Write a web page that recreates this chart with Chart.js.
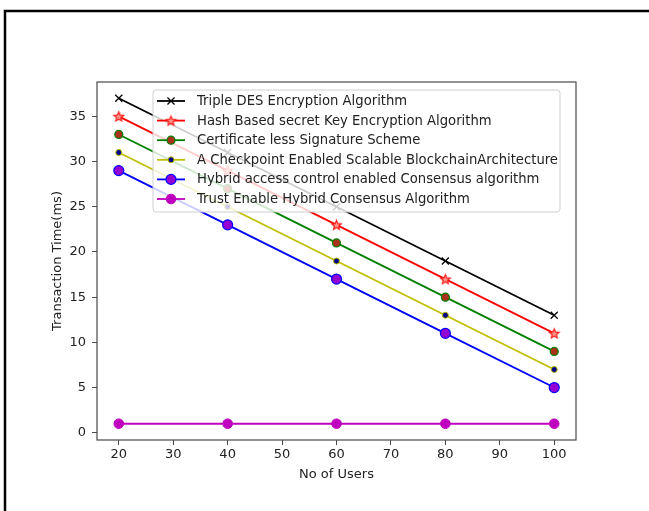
<!DOCTYPE html>
<html>
<head>
<meta charset="utf-8">
<script src="https://cdn.jsdelivr.net/npm/chart.js@4.4.1/dist/chart.umd.min.js"></script>
<style>
  html, body { margin: 0; padding: 0; background: #fff; }
  #chart { display: block; }
</style>
</head>
<body>
<canvas id="chart" width="649" height="511"></canvas>
<script>
// values
var users = [20, 40, 60, 80, 100];
var tripleDes = [37, 31, 25, 19, 13];
var hashBased = [35, 29, 23, 17, 11];
var certLess = [33, 27, 21, 15, 9];
var checkpoint = [31, 25, 19, 13, 7];
var hybridAccess = [29, 23, 17, 11, 5];
var trustHybrid = [1, 1, 1, 1, 1];

var seriesNames = [
    'Triple DES Encryption Algorithm',
    'Hash Based secret Key Encryption Algorithm',
    'Certificate less Signature Scheme',
    'A Checkpoint Enabled Scalable BlockchainArchitecture',
    'Hybrid access control enabled Consensus algorithm',
    'Trust Enable Hybrid Consensus Algorithm'
];
var xTicks = [20, 30, 40, 50, 60, 70, 80, 90, 100];
var yTicks = [0, 5, 10, 15, 20, 25, 30, 35];

function toPoints(vals) {
    return vals.map(function (v, i) { return {x: users[i], y: v}; });
}

function makeStar(r, fill, stroke) {
    var c = document.createElement('canvas');
    var s = Math.ceil(r * 2 + 3);
    c.width = s; c.height = s;
    var g = c.getContext('2d');
    g.beginPath();
    for (var i = 0; i < 10; i++) {
        var rr = (i % 2) ? r * 0.45 : r;
        var a = -Math.PI / 2 + i * Math.PI / 5;
        g.lineTo(s / 2 + rr * Math.cos(a), s / 2 + 0.5 + rr * Math.sin(a));
    }
    g.closePath();
    g.fillStyle = fill; g.fill();
    g.strokeStyle = stroke; g.lineWidth = 1.2; g.stroke();
    return c;
}
var starImg = makeStar(5, '#ff9a8a', '#ff1a1a');

function series(label, vals, color, extra) {
    var d = {
        label: label,
        data: toPoints(vals),
        borderColor: color,
        borderWidth: 1.8,
        tension: 0,
        fill: false
    };
    for (var k in extra) d[k] = extra[k];
    return d;
}

var datasets = [
    series(seriesNames[0], tripleDes, '#000000', {pointStyle: 'crossRot', pointRadius: 5, pointBorderColor: '#000', pointBorderWidth: 1.3}),
    series(seriesNames[1], hashBased, '#ff0000', {pointStyle: starImg, pointRadius: 5}),
    series(seriesNames[2], certLess, '#008000', {pointStyle: 'circle', pointRadius: 4, pointBackgroundColor: '#a8321c', pointBorderColor: '#008000', pointBorderWidth: 1.2}),
    series(seriesNames[3], checkpoint, '#bfbf00', {pointStyle: 'circle', pointRadius: 3, pointBackgroundColor: '#00008b', pointBorderColor: '#bfbf00', pointBorderWidth: 1}),
    series(seriesNames[4], hybridAccess, '#0000ff', {pointStyle: 'circle', pointRadius: 5, pointBackgroundColor: '#9400d3', pointBorderColor: '#0000ff', pointBorderWidth: 1.2}),
    series(seriesNames[5], trustHybrid, '#bf00bf', {pointStyle: 'circle', pointRadius: 4.8, pointBackgroundColor: '#bf00bf', pointBorderColor: '#bf00bf', pointBorderWidth: 1})
];

// white page, outer border of the figure
var pageFrame = {
    id: 'pageFrame',
    beforeDraw: function (chart) {
        var ctx = chart.ctx;
        ctx.save();
        ctx.fillStyle = '#fff';
        ctx.fillRect(0, 0, chart.width, chart.height);
        ctx.strokeStyle = '#000';
        ctx.lineWidth = 2.5;
        ctx.beginPath();
        ctx.moveTo(5, chart.height);
        ctx.lineTo(5, 11);
        ctx.lineTo(chart.width, 11);
        ctx.stroke();
        ctx.restore();
    }
};

// plot frame + matplotlib-like legend inside the axes
var boxLegend = {
    id: 'boxLegend',
    afterDatasetsDraw: function (chart) {
        var ctx = chart.ctx;
        var a = chart.chartArea;
        ctx.save();
        ctx.strokeStyle = '#4a4a4a';
        ctx.lineWidth = 1.2;
        ctx.strokeRect(a.left, a.top, a.right - a.left, a.bottom - a.top);

        var x0 = 153, y0 = 90, w = 407, h = 122, r = 3;
        ctx.beginPath();
        ctx.moveTo(x0 + r, y0);
        ctx.arcTo(x0 + w, y0, x0 + w, y0 + h, r);
        ctx.arcTo(x0 + w, y0 + h, x0, y0 + h, r);
        ctx.arcTo(x0, y0 + h, x0, y0, r);
        ctx.arcTo(x0, y0, x0 + w, y0, r);
        ctx.closePath();
        ctx.fillStyle = 'rgba(255,255,255,0.8)';
        ctx.fill();
        ctx.strokeStyle = '#d0d0d0';
        ctx.lineWidth = 1;
        ctx.stroke();

        ctx.font = '13.2px "DejaVu Sans"';
        ctx.textBaseline = 'middle';
        chart.data.datasets.forEach(function (ds, i) {
            var y = 101 + i * 19.6;
            ctx.strokeStyle = ds.borderColor;
            ctx.lineWidth = ds.borderWidth;
            ctx.beginPath();
            ctx.moveTo(157, y);
            ctx.lineTo(185, y);
            ctx.stroke();
            var o = chart.getDatasetMeta(i).data[0].options;
            ctx.fillStyle = o.backgroundColor;
            ctx.strokeStyle = o.borderColor;
            ctx.lineWidth = o.borderWidth;
            Chart.helpers.drawPoint(ctx, {
                pointStyle: o.pointStyle,
                radius: o.radius,
                rotation: 0,
                borderWidth: o.borderWidth
            }, 171, y);
            ctx.fillStyle = '#222';
            ctx.fillText(ds.label, 197, y + 0.5);
        });
        ctx.restore();
    }
};

var tickFont = {family: '"DejaVu Sans"', size: 13};

new Chart(document.getElementById('chart'), {
    type: 'line',
    data: {datasets: datasets},
    plugins: [pageFrame, boxLegend],
    options: {
        responsive: false,
        animation: false,
        layout: {padding: {left: 47, right: 73, top: 82, bottom: 27}},
        plugins: {legend: {display: false}, tooltip: {enabled: false}},
        events: [],
        scales: {
            x: {
                type: 'linear',
                min: 16,
                max: 104,
                afterBuildTicks: function (s) { s.ticks = xTicks.map(function (v) { return {value: v}; }); },
                afterFit: function (s) { s.height = 44; },
                grid: {display: true, drawOnChartArea: false, drawTicks: true, tickLength: 5, color: '#4a4a4a', tickWidth: 1},
                border: {display: false},
                ticks: {font: tickFont, color: '#222', padding: 2, maxRotation: 0, autoSkip: false},
                title: {display: true, text: 'No of Users', font: tickFont, color: '#222', padding: {top: 0, bottom: 2}}
            },
            y: {
                min: -0.8,
                max: 38.8,
                afterBuildTicks: function (s) { s.ticks = yTicks.map(function (v) { return {value: v}; }); },
                afterFit: function (s) { s.width = 50; },
                grid: {display: true, drawOnChartArea: false, drawTicks: true, tickLength: 5, color: '#4a4a4a', tickWidth: 1},
                border: {display: false},
                ticks: {font: tickFont, color: '#222', padding: 6, autoSkip: false},
                title: {display: true, text: 'Transaction Time(ms)', font: tickFont, color: '#222', padding: {top: 3, bottom: 0}}
            }
        }
    }
});
</script>
</body>
</html>
